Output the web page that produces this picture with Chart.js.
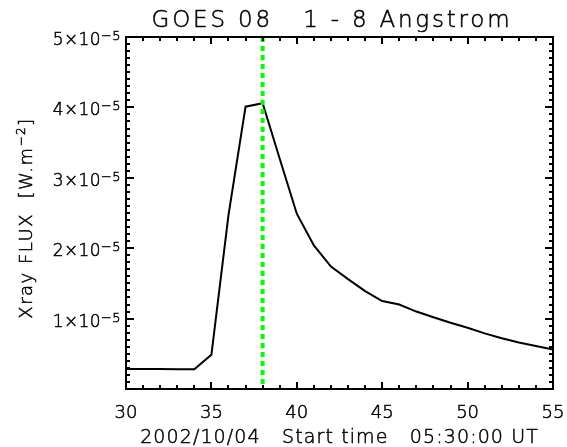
<!DOCTYPE html>
<html>
<head>
<meta charset="utf-8">
<script src="https://cdn.jsdelivr.net/npm/chart.js@4/dist/chart.umd.min.js"></script>
<style>
  html, body { margin: 0; padding: 0; background: #fff; }
  #wrap { width: 567px; height: 447px; }
</style>
</head>
<body>
<div id="wrap"><canvas id="goes"></canvas></div>
<script>
// GOES 08 1-8 A flux, one sample per minute after 05:00 UT
const minutes = [30, 31, 32, 33, 34, 35, 36, 37, 38, 39, 40, 41, 42,
                 43, 44, 45, 46, 47, 48, 49, 50, 51, 52, 53, 54, 55];
const flux = [2.85e-6, 2.84e-6, 2.83e-6, 2.82e-6, 2.8e-6, 4.86e-6, 2.47e-5,
              4.01e-5, 4.06e-5, 3.27e-5, 2.49e-5, 2.04e-5, 1.74e-5, 1.56e-5,
              1.39e-5, 1.25e-5, 1.2e-5, 1.1e-5, 1.02e-5, 0.94e-5, 0.87e-5,
              0.79e-5, 0.72e-5, 0.66e-5, 0.61e-5, 0.56e-5];
const xTicks = [30, 35, 40, 45, 50, 55];
const yTicks = [1, 2, 3, 4, 5];   // mantissas, x 10^-5
const markerTime = 38;

const titleText = 'GOES 08   1 - 8 Angstrom';
const xTitle = '2002/10/04   Start time   05:30:00 UT';

const FONT = '"DejaVu Sans", sans-serif';
const W = 200;

// draws runs of text (some raised) as one line; align: left/center/right
function drawRuns(ctx, runs, x, y, align, spacing) {
  ctx.letterSpacing = spacing + 'px';
  let total = 0;
  runs.forEach(r => {
    ctx.font = `${W} ${r.size}px ${FONT}`;
    r.w = ctx.measureText(r.text).width;
    total += r.w;
  });
  let cx = align === 'right' ? x - total : align === 'center' ? x - total / 2 : x;
  ctx.textAlign = 'left';
  ctx.textBaseline = 'alphabetic';
  ctx.lineWidth = 0.5;
  ctx.strokeStyle = '#000';
  runs.forEach(r => {
    ctx.font = `${W} ${r.size}px ${FONT}`;
    ctx.fillText(r.text, cx, y - (r.rise || 0));
    ctx.strokeText(r.text, cx, y - (r.rise || 0));
    cx += r.w;
  });
  ctx.letterSpacing = '0px';
}

// frame, inward ticks on all four sides, marker line, labels and titles
const idlFrame = {
  id: 'idlFrame',
  afterDatasetsDraw(chart) {
    const { ctx, chartArea: a, scales: { x, y } } = chart;
    ctx.save();

    // dotted marker at the selected time
    const mx = x.getPixelForValue(markerTime);
    ctx.strokeStyle = '#00ff00';
    ctx.lineWidth = 4;
    ctx.setLineDash([5, 4]);
    ctx.beginPath();
    ctx.moveTo(mx, a.top);
    ctx.lineTo(mx, a.bottom);
    ctx.stroke();
    ctx.setLineDash([]);

    ctx.strokeStyle = '#000';
    ctx.lineWidth = 2;
    ctx.strokeRect(a.left, a.top, a.right - a.left, a.bottom - a.top);

    ctx.beginPath();
    for (let t = x.min; t <= x.max + 1e-9; t += 1) {
      const px = Math.round(x.getPixelForValue(t));
      const len = (t % 5 === 0) ? 7 : 4;
      ctx.moveTo(px, a.bottom); ctx.lineTo(px, a.bottom - len);
      ctx.moveTo(px, a.top); ctx.lineTo(px, a.top + len);
    }
    for (let i = 0; i <= 50; i++) {
      const py = Math.round(y.getPixelForValue(i * 1e-6));
      const len = (i % 10 === 0) ? 8 : 4;
      ctx.moveTo(a.left, py); ctx.lineTo(a.left + len, py);
      ctx.moveTo(a.right, py); ctx.lineTo(a.right - len, py);
    }
    ctx.stroke();

    ctx.fillStyle = '#000';

    // tick labels
    xTicks.forEach(v => {
      drawRuns(ctx, [{ text: String(v), size: 18 }], x.getPixelForValue(v), a.bottom + 29, 'center', 0);
    });
    yTicks.forEach(m => {
      const py = y.getPixelForValue(m * 1e-5);
      drawRuns(ctx, [
        { text: m + '×10', size: 17 },
        { text: '−5', size: 13, rise: 5 }
      ], a.left - 5, py + 8, 'right', 0.4);
    });

    // titles
    drawRuns(ctx, [{ text: titleText, size: 23 }], 332, 27, 'center', 2.8);
    drawRuns(ctx, [{ text: xTitle, size: 19 }], (a.left + a.right) / 2, 443, 'center', 1.1);

    ctx.translate(32, 218);
    ctx.rotate(-Math.PI / 2);
    drawRuns(ctx, [
      { text: 'Xray FLUX  [W.m', size: 18 },
      { text: '−2', size: 12, rise: 7 },
      { text: ']', size: 18 }
    ], 0, 0, 'center', 1.5);
    ctx.restore();
  }
};

new Chart(document.getElementById('goes'), {
  type: 'line',
  data: {
    datasets: [{
      data: minutes.map((m, i) => ({ x: m, y: flux[i] })),
      borderColor: '#000',
      borderWidth: 2,
      pointRadius: 0,
      tension: 0,
      fill: false
    }]
  },
  options: {
    responsive: true,
    maintainAspectRatio: false,
    animation: false,
    events: [],
    layout: { padding: { top: 37, right: 14, left: 0, bottom: 0 } },
    plugins: {
      legend: { display: false },
      title: { display: false },
      tooltip: { enabled: false }
    },
    scales: {
      x: {
        type: 'linear',
        min: 30,
        max: 55,
        afterFit: (s) => { s.height = 58; },
        grid: { display: false, drawTicks: false },
        border: { display: false },
        ticks: { display: false }
      },
      y: {
        min: 0,
        max: 5e-5,
        afterFit: (s) => { s.width = 126; },
        grid: { display: false, drawTicks: false },
        border: { display: false },
        ticks: { display: false }
      }
    }
  },
  plugins: [idlFrame]
});
</script>
</body>
</html>
